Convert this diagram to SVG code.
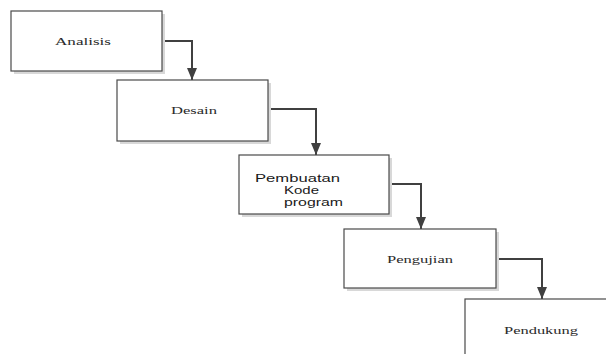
<svg xmlns="http://www.w3.org/2000/svg" width="606" height="354" viewBox="0 0 606 354">
<defs>
<style>
.shadow{fill:#d8d8d8;stroke:none}
.box{fill:#ffffff;stroke:#4a4a4a;stroke-width:1.2}
.serif{font-family:"Liberation Serif","Times New Roman",serif;font-size:11px;fill:#2a2a2a}
.sans{font-family:"Liberation Sans",Arial,sans-serif;font-size:10.5px;fill:#1a1a1a}
.conn{fill:none;stroke:#404040;stroke-width:2}
</style>
<marker id="arrow" viewBox="0 0 12 10" refX="12" refY="5" markerWidth="12" markerHeight="10" markerUnits="userSpaceOnUse" orient="auto">
<path d="M0,0 L12,5 L0,10 Z" fill="#404040"/>
</marker>
</defs>
<rect width="606" height="354" fill="#ffffff"/>
<g id="connectors">
<path class="conn" d="M162,41 H192 V80" marker-end="url(#arrow)"/>
<path class="conn" d="M268,109 H316 V155" marker-end="url(#arrow)"/>
<path class="conn" d="M389,184 H421 V229" marker-end="url(#arrow)"/>
<path class="conn" d="M496,259 H542 V299" marker-end="url(#arrow)"/>
</g>
<g id="analisis">
<rect class="shadow" x="14" y="14" width="151" height="60"/>
<rect class="box" x="11" y="11" width="151" height="60"/>
<text class="serif" x="55" y="45" textLength="56" lengthAdjust="spacingAndGlyphs">Analisis</text>
</g>
<g id="desain">
<rect class="shadow" x="120" y="83" width="151" height="61"/>
<rect class="box" x="117" y="80" width="151" height="61"/>
<text class="serif" x="171" y="114" textLength="46" lengthAdjust="spacingAndGlyphs">Desain</text>
</g>
<g id="pembuatan">
<rect class="shadow" x="242" y="158" width="150" height="59"/>
<rect class="box" x="239" y="155" width="150" height="59"/>
<text class="sans" x="255" y="182" textLength="85" lengthAdjust="spacingAndGlyphs">Pembuatan</text>
<text class="sans" x="284" y="194" textLength="35" lengthAdjust="spacingAndGlyphs">Kode</text>
<text class="sans" x="284" y="205.5" textLength="59" lengthAdjust="spacingAndGlyphs">program</text>
</g>
<g id="pengujian">
<rect class="shadow" x="347" y="232" width="152" height="59"/>
<rect class="box" x="344" y="229" width="152" height="59"/>
<text class="serif" x="387" y="263" textLength="66" lengthAdjust="spacingAndGlyphs">Pengujian</text>
</g>
<g id="pendukung">
<rect class="box" x="465" y="299" width="200" height="100"/>
<text class="serif" x="504" y="334" textLength="74" lengthAdjust="spacingAndGlyphs">Pendukung</text>
</g>
</svg>
